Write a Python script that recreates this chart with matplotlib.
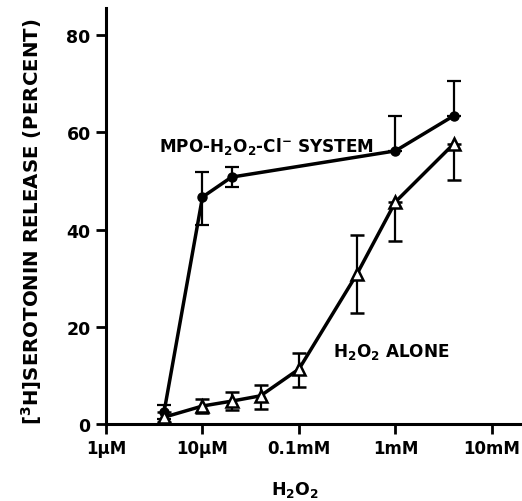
import matplotlib
matplotlib.use("Agg")
import matplotlib.pyplot as plt
import numpy as np

plt.rcParams['font.family'] = ['DejaVu Sans']
plt.rcParams['font.weight'] = 'bold'
plt.rcParams['mathtext.fontset'] = 'custom'
plt.rcParams['mathtext.rm'] = 'DejaVu Sans:bold'
plt.rcParams['mathtext.bf'] = 'DejaVu Sans:bold'
plt.rcParams['mathtext.it'] = 'DejaVu Sans:bold'

# H2O2 concentrations (molar)
mpo_x = [4e-6, 1e-5, 2e-5, 1e-3, 4e-3]
mpo_y = [2.5, 46.7, 50.8, 56.2, 63.4]
mpo_err_lo = [1.5, 5.8, 2.0, 0.0, 0.0]
mpo_err_hi = [1.5, 5.2, 2.0, 7.2, 7.2]

alone_x = [4e-6, 1e-5, 2e-5, 4e-5, 1e-4, 4e-4, 1e-3, 4e-3]
alone_y = [1.4, 3.7, 4.7, 5.8, 11.3, 30.9, 45.7, 57.6]
alone_err_lo = [1.0, 1.4, 1.8, 2.8, 3.6, 8.1, 8.1, 7.4]
alone_err_hi = [1.0, 1.4, 1.8, 2.2, 3.4, 7.9, 0.0, 0.0]

xtick_vals = [1e-6, 1e-5, 1e-4, 1e-3, 1e-2]
xtick_labels = ['1µM', '10µM', '0.1mM', '1mM', '10mM']
ytick_vals = [0, 20, 40, 60, 80]

fig = plt.figure(figsize=(5.22, 5.02), dpi=100)
ax = fig.add_axes([106/522, 1-425/502, 1-106/522, (425-9)/502])

ax.errorbar(mpo_x, mpo_y, yerr=[mpo_err_lo, mpo_err_hi], fmt='-o', color='black',
            lw=2.5, ms=6.5, capsize=5, elinewidth=1.6, capthick=1.6, zorder=3)
ax.errorbar(alone_x, alone_y, yerr=[alone_err_lo, alone_err_hi], fmt='-^', color='black',
            mfc='white', mec='black', mew=1.8, lw=2.5, ms=9, capsize=5,
            elinewidth=1.6, capthick=1.6, zorder=4)

ax.set_xscale('log')
ax.set_xlim(1e-6, 2.05e-2)
ax.set_ylim(0, 85.6)
ax.set_xticks(xtick_vals)
ax.set_xticklabels(xtick_labels)
ax.minorticks_off()
ax.set_yticks(ytick_vals)
for s in ['top', 'right']:
    ax.spines[s].set_visible(False)
for s in ['left', 'bottom']:
    ax.spines[s].set_linewidth(2.2)
ax.tick_params(axis='both', direction='out', length=7, width=2.0, labelsize=12, pad=4)
ax.tick_params(axis='y', labelsize=12.5)

ax.text(3.53e-6, 57.3, r'MPO-H$_2$O$_2$-Cl$^{-}$ SYSTEM', fontsize=12.2, fontweight='bold',
        ha='left', va='center')
ax.text(2.28e-4, 15.0, r'H$_2$O$_2$ ALONE', fontsize=12.2, fontweight='bold',
        ha='left', va='center')

ax.set_ylabel(r'[$^{3}$H]SEROTONIN RELEASE (PERCENT)', fontsize=14.2, fontweight='bold')
ax.yaxis.set_label_coords((44 - 106) / 416, (425 - 222) / 416)
fig.text(295/522, 1-490/502, r'H$_2$O$_2$', fontsize=12.5, fontweight='bold', ha='center', va='center')

fig.savefig('out.png', dpi=100)
